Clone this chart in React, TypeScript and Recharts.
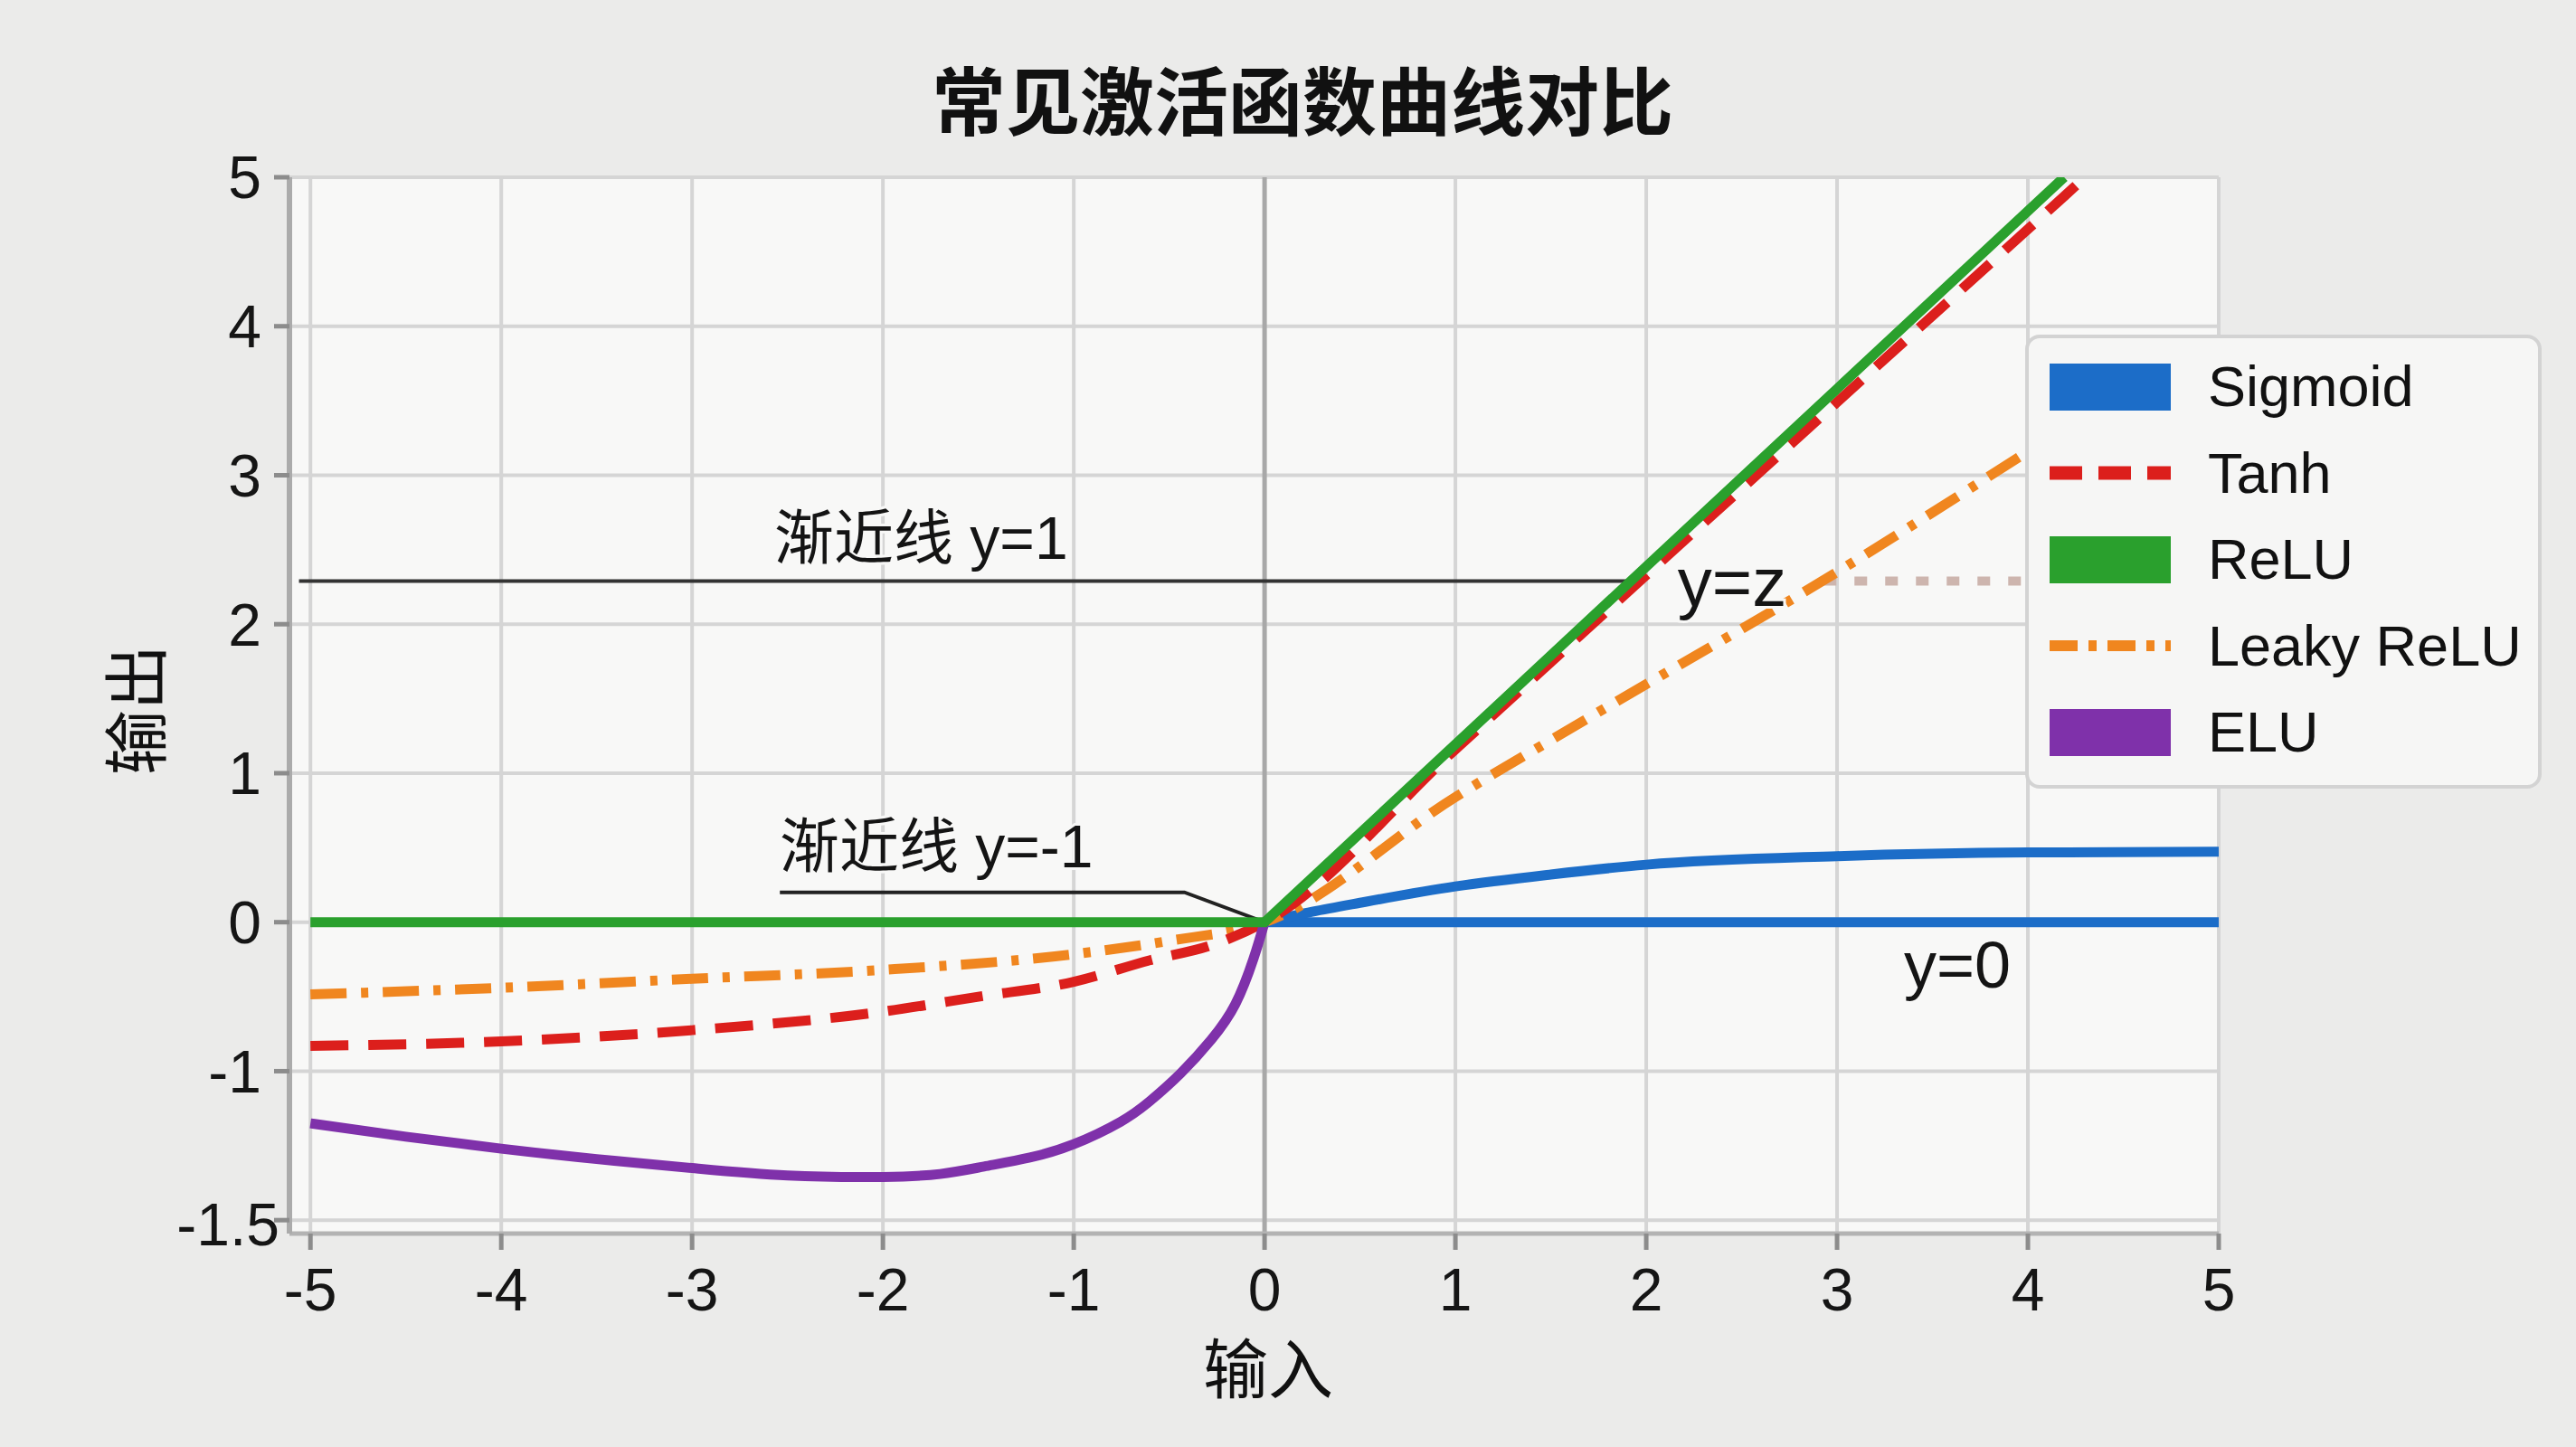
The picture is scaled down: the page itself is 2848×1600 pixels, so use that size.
import { ComposedChart, Line, Scatter, XAxis, YAxis, CartesianGrid, ReferenceLine, Legend } from 'recharts'

const FONT = '"Liberation Sans", "Noto Sans CJK SC", sans-serif'
const CJK_FONT = '"Noto Sans CJK SC", "Liberation Sans", sans-serif'

const BLUE = '#1c6dc8'
const RED = '#dc1f1c'
const GREEN = '#2aa02d'
const ORANGE = '#f0861f'
const PURPLE = '#7f31aa'

// axis ticks (the picture's y axis squeezes -1.5 into the slot of -2)
const X_TICKS = [-5, -4, -3, -2, -1, 0, 1, 2, 3, 4, 5]
const Y_TICKS = [-2, -1, 0, 1, 2, 3, 4, 5]
const Y_TICK_LABELS = ['-1.5', '-1', '0', '1', '2', '3', '4', '5']

// series (y in the picture's drawn units)
const sigmoid = [
  { x: 0, y: 0 }, { x: 0.25, y: 0.07 }, { x: 0.5, y: 0.13 }, { x: 1, y: 0.24 }, { x: 1.5, y: 0.32 },
  { x: 2, y: 0.386 }, { x: 3, y: 0.443 }, { x: 4, y: 0.468 }, { x: 5, y: 0.473 },
]
const sigmoidBase = [{ x: 0, y: 0 }, { x: 5, y: 0 }]
const tanh = [
  { x: -5, y: -0.83 }, { x: -4, y: -0.8 }, { x: -3, y: -0.725 }, { x: -2, y: -0.6 }, { x: -1.5, y: -0.5 },
  { x: -1, y: -0.4 }, { x: -0.6, y: -0.255 }, { x: -0.28, y: -0.155 }, { x: 0, y: 0 }, { x: 1, y: 1.16 },
  { x: 2, y: 2.33 }, { x: 3, y: 3.49 }, { x: 4.3, y: 5 },
]
const relu = [{ x: -5, y: 0 }, { x: 0, y: 0 }, { x: 4.19, y: 5 }]
const leakyRelu = [
  { x: -5, y: -0.485 }, { x: -4, y: -0.44 }, { x: -3, y: -0.38 }, { x: -2, y: -0.32 }, { x: -1, y: -0.215 },
  { x: -0.5, y: -0.125 }, { x: 0, y: 0 }, { x: 1, y: 0.84 }, { x: 1.67, y: 1.35 }, { x: 3, y: 2.35 },
  { x: 4, y: 3.16 },
]
const elu = [
  { x: -5, y: -1.35 }, { x: -4.5, y: -1.44 }, { x: -4, y: -1.52 }, { x: -3.5, y: -1.59 }, { x: -3, y: -1.65 },
  { x: -2.5, y: -1.7 }, { x: -2, y: -1.71 }, { x: -1.7, y: -1.69 }, { x: -1.47, y: -1.64 }, { x: -1.23, y: -1.58 },
  { x: -1, y: -1.49 }, { x: -0.755, y: -1.34 }, { x: -0.6, y: -1.2 }, { x: -0.44, y: -1.015 },
  { x: -0.28, y: -0.79 }, { x: -0.153, y: -0.55 }, { x: -0.058, y: -0.245 }, { x: 0, y: 0 },
]

// annotation guide lines
const asymptoteUpper = [{ x: -5.06, y: 2.29 }, { x: 1.94, y: 2.29 }]
const asymptoteUpperFaded = [{ x: 2.93, y: 2.29 }, { x: 3.99, y: 2.29 }]
const asymptoteLowerLeader = [{ x: -2.54, y: 0.2 }, { x: -0.42, y: 0.2 }, { x: -0.02, y: 0.01 }]

const annotations = [
  { x: -1.8, y: 2.44, text: '渐近线 y=1' },
  { x: -1.72, y: 0.37, text: '渐近线 y=-1' },
  { x: 2.45, y: 2.12, text: 'y=z' },
  { x: 3.63, y: -0.44, text: 'y=0' },
]
const ANNOTATION_SIZE: Record<string, number> = { 'y=z': 76, 'y=0': 72 }

const LEGEND_ITEMS = [
  { name: 'Sigmoid', color: BLUE, kind: 'box' },
  { name: 'Tanh', color: RED, kind: 'dash' },
  { name: 'ReLU', color: GREEN, kind: 'box' },
  { name: 'Leaky ReLU', color: ORANGE, kind: 'dashdot' },
  { name: 'ELU', color: PURPLE, kind: 'box' },
]

function YTick(props: any) {
  const { x, y, payload } = props
  const i = Y_TICKS.indexOf(payload.value)
  const first = i === 0
  return (
    <text x={x + (first ? 20 : 0)} y={y + (first ? 4 : 0)} dy="0.355em" textAnchor="end" fill="#151515" fontSize={66} fontFamily={FONT}>
      {Y_TICK_LABELS[i]}
    </text>
  )
}

function AnnotationText(props: any) {
  const { cx, cy, payload } = props
  return (
    <text x={cx} y={cy} textAnchor="middle" fill="#141414" fontSize={ANNOTATION_SIZE[payload.text] ?? 66} fontFamily={FONT}
      stroke="#f8f8f7" strokeWidth={6} paintOrder="stroke">
      {payload.text}
    </text>
  )
}

function Swatch({ color, kind }: { color: string; kind: string }) {
  return (
    <svg width={134} height={52} style={{ display: 'block', flex: 'none' }}>
      {kind === 'box' && <rect x={0} y={0} width={134} height={52} fill={color} />}
      {kind === 'dash' && <line x1={0} y1={26} x2={134} y2={26} stroke={color} strokeWidth={15} strokeDasharray="36 18" />}
      {kind === 'dashdot' && <line x1={0} y1={26} x2={134} y2={26} stroke={color} strokeWidth={12} strokeDasharray="31 12 9 12" />}
    </svg>
  )
}

function LegendBox() {
  return (
    <div style={{
      width: 571, height: 502, boxSizing: 'border-box', border: '4px solid #d3d3d3', borderRadius: 16,
      background: '#f6f6f5', paddingTop: 6, paddingLeft: 23,
    }}>
      {LEGEND_ITEMS.map((item) => (
        <div key={item.name} style={{ display: 'flex', alignItems: 'center', height: 95.5 }}>
          <Swatch color={item.color} kind={item.kind} />
          <span style={{ marginLeft: 41, fontFamily: FONT, fontSize: 63, color: '#111', lineHeight: 1 }}>{item.name}</span>
        </div>
      ))}
    </div>
  )
}

export default function App() {
  return (
    <div style={{ position: 'absolute', left: 0, top: 0, width: 2848, height: 1600, background: '#ebebea', overflow: 'hidden' }}>
      <ComposedChart width={2848} height={1600} margin={{ top: 196, right: 395, bottom: 136, left: 170 }}>
        <CartesianGrid stroke="#d5d5d5" strokeWidth={4} fill="#f8f8f7" />
        <XAxis type="number" dataKey="x" domain={[-5.11, 5]} ticks={X_TICKS} allowDataOverflow height={100}
          stroke="#b3b3b3" strokeWidth={5} tickSize={18} tickMargin={20}
          tick={{ fill: '#151515', fontSize: 66, fontFamily: FONT }} tickLine={{ stroke: '#8c8c8c', strokeWidth: 5 }} />
        <YAxis type="number" dataKey="y" domain={[-2.09, 5]} ticks={Y_TICKS} allowDataOverflow width={150}
          stroke="#ababab" strokeWidth={6} tickSize={17} tickMargin={14}
          tick={<YTick />} tickLine={{ stroke: '#8c8c8c', strokeWidth: 5 }} />
        <ReferenceLine x={0} stroke="#a8a8a8" strokeWidth={5} />
        <Line data={asymptoteUpper} dataKey="y" type="linear" stroke="#333" strokeWidth={4} dot={false} legendType="none" isAnimationActive={false} />
        <Line data={asymptoteUpperFaded} dataKey="y" type="linear" stroke="#cdb5ae" strokeWidth={10} strokeDasharray="14 20" dot={false} legendType="none" isAnimationActive={false} />
        <Line data={asymptoteLowerLeader} dataKey="y" type="linear" stroke="#222" strokeWidth={4} dot={false} legendType="none" isAnimationActive={false} />
        <Line data={sigmoidBase} dataKey="y" type="linear" stroke={BLUE} strokeWidth={11} dot={false} legendType="none" isAnimationActive={false} />
        <Line data={sigmoid} dataKey="y" name="Sigmoid" type="monotone" stroke={BLUE} strokeWidth={11} dot={false} isAnimationActive={false} />
        <Line data={leakyRelu} dataKey="y" name="Leaky ReLU" type="monotone" stroke={ORANGE} strokeWidth={11} strokeDasharray="40 16 8 16" dot={false} isAnimationActive={false} />
        <Line data={tanh} dataKey="y" name="Tanh" type="monotone" stroke={RED} strokeWidth={11} strokeDasharray="42 22" dot={false} isAnimationActive={false} />
        <Line data={elu} dataKey="y" name="ELU" type="natural" stroke={PURPLE} strokeWidth={11} dot={false} isAnimationActive={false} />
        <Line data={relu} dataKey="y" name="ReLU" type="linear" stroke={GREEN} strokeWidth={11} dot={false} isAnimationActive={false} />
        <Scatter data={annotations} dataKey="y" shape={<AnnotationText />} legendType="none" isAnimationActive={false} />
        <Legend layout="horizontal" verticalAlign="middle" align="center" content={() => <LegendBox />}
          wrapperStyle={{ left: 2239, top: 370, width: 571, height: 502 }} />
      </ComposedChart>
      <div style={{ position: 'absolute', left: 840, top: 67, width: 1200, textAlign: 'center', fontFamily: CJK_FONT, fontWeight: 700, fontSize: 82, lineHeight: '82px', color: '#111' }}>
        常见激活函数曲线对比
      </div>
      <div style={{ position: 'absolute', left: 1327, top: 1484, width: 150, height: 50, textAlign: 'center', fontFamily: CJK_FONT, fontSize: 72, lineHeight: '50px', color: '#111' }}>
        输入
      </div>
      <div style={{ position: 'absolute', left: 146 - 75, top: 785 - 25, width: 150, height: 50, textAlign: 'center', fontFamily: CJK_FONT, fontSize: 72, lineHeight: '50px', color: '#111', transform: 'rotate(-90deg)' }}>
        输出
      </div>
    </div>
  )
}
